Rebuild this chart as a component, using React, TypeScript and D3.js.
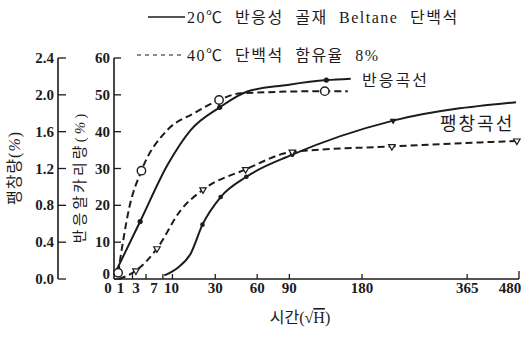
import React, { useEffect, useRef } from 'react';
import * as d3 from 'd3';

const W = 529;
const H = 337;

// axis ticks
const timeTicks = [0, 1, 3, 7, 10, 30, 60, 90, 180, 365, 480];
const expansionTicks = [0, 0.4, 0.8, 1.2, 1.6, 2.0, 2.4];
const alkaliTicks = [0, 10, 20, 30, 40, 50, 60];

// 반응곡선 (반응알카리량 %)
const react20Time = [0, 2, 8.4, 17.3, 32.7, 52, 88, 132, 164];
const react20Value = [1, 15.6, 31, 40.5, 46.6, 50.9, 52.7, 54, 54.4];
const react20Marks = [1, 4, 7];

const react40Time = [0.05, 0.7, 2.2, 8.4, 18.8, 32.3, 47, 130, 160];
const react40Value = [1.7, 19.6, 29.4, 40.5, 45, 48.6, 50.4, 51, 51];
const react40Marks = [0, 2, 5, 7];

// 팽창곡선 (팽창량 %)
const expand20Time = [7.4, 11.8, 17.3, 22.9, 33.3, 51.3, 93, 228, 473];
const expand20Value = [0.04, 0.12, 0.28, 0.59, 0.89, 1.11, 1.35, 1.72, 1.92];
const expand20Marks = [3, 4, 5, 6, 7];

const expand40Time = [0.07, 1.4, 5.4, 13.1, 23.2, 50.7, 93, 226, 475];
const expand40Value = [0, 0.09, 0.33, 0.75, 0.97, 1.19, 1.38, 1.44, 1.5];
const expand40Marks = [1, 2, 4, 5, 6, 7, 8];

// crowded labels near zero are pushed left in the original
const labelNudge: Record<number, number> = { 0: -6, 1: -12, 3: -10, 7: -9, 10: -1, 480: -9 };

const INK = '#1c1c1c';
const SERIF = '"Liberation Serif", "DejaVu Serif", serif';
const KFONT = '"Liberation Serif", "Noto Sans CJK KR", serif';

export default function App() {
  const svgRef = useRef<SVGSVGElement>(null);

  useEffect(() => {
    const svg = d3.select(svgRef.current);
    svg.selectAll('*').remove();

    const x = d3.scaleSqrt().domain([0, 480]).range([114, 519]);
    const yA = d3.scaleLinear().domain([0, 60]).range([279, 58]);
    const yE = d3.scaleLinear().domain([0, 2.4]).range([279, 58]);

    const g = svg.append('g');

    // outer axis (팽창량)
    const ox = 58;
    g.append('line').attr('x1', ox).attr('x2', ox).attr('y1', yE(2.4)).attr('y2', yE(0))
      .attr('stroke', INK).attr('stroke-width', 1.6);
    expansionTicks.forEach((t) => {
      g.append('line').attr('x1', ox).attr('x2', ox + 8).attr('y1', yE(t)).attr('y2', yE(t))
        .attr('stroke', INK).attr('stroke-width', 1.3);
      g.append('text').attr('x', ox - 4).attr('y', yE(t) + 5).attr('text-anchor', 'end')
        .attr('font-family', SERIF).attr('font-weight', 'bold').attr('font-size', 15)
        .attr('fill', INK).text(t.toFixed(1));
    });

    // inner axis (반응알카리량)
    const ix = x(0);
    g.append('line').attr('x1', ix).attr('x2', ix).attr('y1', yA(60)).attr('y2', yA(0))
      .attr('stroke', INK).attr('stroke-width', 1.6);
    alkaliTicks.forEach((t) => {
      g.append('line').attr('x1', ix).attr('x2', ix + 7).attr('y1', yA(t)).attr('y2', yA(t))
        .attr('stroke', INK).attr('stroke-width', 1.3);
      g.append('text').attr('x', ix - 4).attr('y', yA(t) + (t === 0 ? 0 : 5)).attr('text-anchor', 'end')
        .attr('font-family', SERIF).attr('font-weight', 'bold').attr('font-size', 15)
        .attr('fill', INK).text(t);
    });

    // time axis
    const by = yA(0);
    g.append('line').attr('x1', ix).attr('x2', x(480)).attr('y1', by).attr('y2', by)
      .attr('stroke', INK).attr('stroke-width', 1.6);
    timeTicks.forEach((t) => {
      if (t > 0) {
        g.append('line').attr('x1', x(t)).attr('x2', x(t)).attr('y1', by).attr('y2', by - (t === 480 ? 8 : 5))
          .attr('stroke', INK).attr('stroke-width', 1.3);
      }
      g.append('text').attr('x', x(t) + (labelNudge[t] || 0)).attr('y', by + 14)
        .attr('text-anchor', 'middle').attr('font-family', SERIF).attr('font-weight', 'bold')
        .attr('font-size', 15).attr('fill', INK).text(t);
    });

    const line = d3.line<[number, number]>().curve(d3.curveMonotoneX);

    const drawSeries = (
      times: number[], values: number[], yS: d3.ScaleLinear<number, number>,
      dash: string | null, marks: number[], mark: string
    ) => {
      const pts: [number, number][] = times.map((t, i) => [x(t), yS(values[i])]);
      g.append('path').attr('d', line(pts)).attr('fill', 'none').attr('stroke', INK)
        .attr('stroke-width', 2).attr('stroke-dasharray', dash);
      marks.forEach((i, k) => {
        const [px, py] = pts[i];
        if (mark === 'dot') {
          g.append('circle').attr('cx', px).attr('cy', py).attr('r', 2.6).attr('fill', INK);
        } else if (mark === 'ring') {
          g.append('circle').attr('cx', px).attr('cy', py).attr('r', 4.2).attr('fill', '#fff')
            .attr('stroke', INK).attr('stroke-width', 1.4);
        } else if (mark === 'dotTri') {
          if (k === marks.length - 1) {
            g.append('path').attr('d', d3.symbol(d3.symbolTriangle, 20)())
              .attr('transform', `translate(${px},${py}) rotate(180)`).attr('fill', INK);
          } else {
            g.append('circle').attr('cx', px).attr('cy', py).attr('r', 2.3).attr('fill', INK);
          }
        } else {
          g.append('path').attr('d', d3.symbol(d3.symbolTriangle, 18)())
            .attr('transform', `translate(${px},${py}) rotate(180)`).attr('fill', '#fff')
            .attr('stroke', INK).attr('stroke-width', 1.2);
        }
      });
    };

    drawSeries(react20Time, react20Value, yA, null, react20Marks, 'dot');
    drawSeries(react40Time, react40Value, yA, '7,4', react40Marks, 'ring');
    drawSeries(expand20Time, expand20Value, yE, null, expand20Marks, 'dotTri');
    drawSeries(expand40Time, expand40Value, yE, '7,4', expand40Marks, 'tri');

    // curve labels
    g.append('text').attr('x', 362).attr('y', 86).attr('font-family', KFONT).attr('font-size', 16)
      .attr('letter-spacing', 2).attr('fill', INK).text('반응곡선');
    g.append('text').attr('x', 440).attr('y', 130).attr('font-family', KFONT).attr('font-size', 18)
      .attr('letter-spacing', 2).attr('fill', INK).text('팽창곡선');

    // legend
    g.append('line').attr('x1', 148).attr('x2', 185).attr('y1', 17).attr('y2', 17)
      .attr('stroke', INK).attr('stroke-width', 1.4);
    g.append('text').attr('x', 187).attr('y', 23).attr('font-family', KFONT).attr('font-size', 16)
      .attr('letter-spacing', 1.5).attr('word-spacing', 6).attr('fill', INK)
      .text('20℃ 반응성 골재 Beltane 단백석');
    g.append('line').attr('x1', 137).attr('x2', 182).attr('y1', 55).attr('y2', 55)
      .attr('stroke', INK).attr('stroke-width', 1.2).attr('stroke-dasharray', '4,4');
    g.append('text').attr('x', 187).attr('y', 61).attr('font-family', KFONT).attr('font-size', 16)
      .attr('letter-spacing', 1.5).attr('word-spacing', 6).attr('fill', INK)
      .text('40℃ 단백석 함유율 8%');

    // axis titles
    const t1 = g.append('text').attr('transform', 'translate(20,168) rotate(-90)')
      .attr('text-anchor', 'middle').attr('font-family', KFONT).attr('font-size', 16)
      .attr('letter-spacing', 1).attr('fill', INK);
    t1.append('tspan').text('팽창량(');
    t1.append('tspan').attr('font-style', 'italic').text('%');
    t1.append('tspan').text(')');

    const t2 = g.append('text').attr('transform', 'translate(85,177) rotate(-90)')
      .attr('text-anchor', 'middle').attr('font-family', KFONT).attr('font-size', 15)
      .attr('letter-spacing', 3).attr('fill', INK);
    t2.append('tspan').text('반응알카리량(');
    t2.append('tspan').attr('font-style', 'italic').text('%');
    t2.append('tspan').text(')');

    const t3 = g.append('text').attr('x', 300).attr('y', 323).attr('text-anchor', 'middle')
      .attr('font-family', KFONT).attr('font-size', 16).attr('fill', INK);
    t3.append('tspan').text('시간(√');
    t3.append('tspan').attr('text-decoration', 'overline').text('H');
    t3.append('tspan').text(')');
  }, []);

  return (
    <svg
      ref={svgRef}
      width={W}
      height={H}
      style={{ position: 'absolute', left: 0, top: 0, background: '#fff' }}
    />
  );
}
